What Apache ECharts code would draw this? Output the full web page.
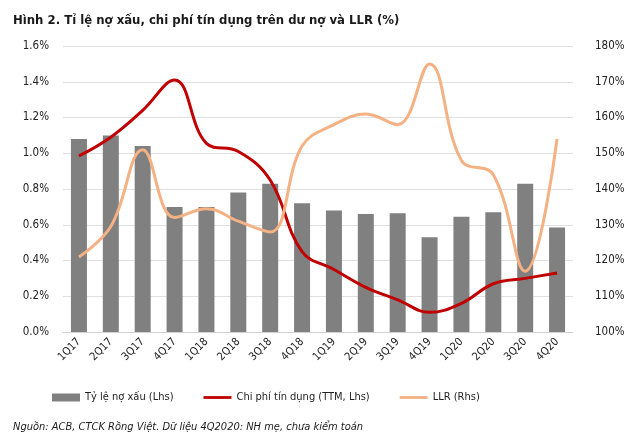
<!DOCTYPE html>
<html><head><meta charset="utf-8">
<script src="https://cdn.jsdelivr.net/npm/echarts@6/dist/echarts.min.js"></script>
<style>html,body{margin:0;padding:0;background:#fff}#c{width:640px;height:443px}</style>
</head><body><div id="c"></div>
<script>
const categories = ['1Q17','2Q17','3Q17','4Q17','1Q18','2Q18','3Q18','4Q18','1Q19','2Q19','3Q19','4Q19','1Q20','2Q20','3Q20','4Q20'];
const nplRatio = [1.08,1.10,1.04,0.70,0.70,0.78,0.83,0.72,0.68,0.66,0.665,0.53,0.645,0.67,0.83,0.585];
const creditCost = [0.985,1.09,1.24,1.41,1.055,1.01,0.85,0.45,0.35,0.25,0.18,0.11,0.16,0.27,0.30,0.33];
const llr = [121,129.5,151,132,134.5,131,128,152,158,161,158,175,148,144,117,154];
const leftTicks = {min:0,max:1.6,interval:0.2};
const rightTicks = {min:100,max:180,interval:10};
const FONT = '"DejaVu Sans Condensed", "Liberation Sans", sans-serif';
const LINE_ICON = 'path://M0 0H30V3H0Z';

const chart = echarts.init(document.getElementById('c'), null, {renderer:'canvas'});
chart.setOption({
  animation:false,
  textStyle:{fontFamily:FONT},
  title:[
    {text:'Hình 2. Tỉ lệ nợ xấu, chi phí tín dụng trên dư nợ và LLR (%)',left:8,top:9,
     textStyle:{fontFamily:FONT,fontSize:13,fontWeight:'bold',color:'#1a1a1a'}},
    {text:'Nguồn: ACB, CTCK Rồng Việt. Dữ liệu 4Q2020: NH mẹ, chưa kiểm toán',left:8,top:417,
     textStyle:{fontFamily:FONT,fontSize:11,fontStyle:'italic',fontWeight:'normal',color:'#1a1a1a'}}
  ],
  legend:{
    top:387,left:47,itemGap:30,itemWidth:28,itemHeight:8,
    textStyle:{fontFamily:FONT,fontSize:11,color:'#222'},
    data:[
      {name:'Tỷ lệ nợ xấu (Lhs)',icon:'rect'},
      {name:'Chi phí tín dụng (TTM, Lhs)',icon:LINE_ICON},
      {name:'LLR (Rhs)',icon:LINE_ICON}
    ]
  },
  grid:{left:63,right:67,top:46,bottom:111},
  xAxis:{
    type:'category',data:categories,
    axisLine:{lineStyle:{color:'#d0d0d0'}},
    axisTick:{show:false},
    axisLabel:{rotate:45,fontSize:11,color:'#222',margin:8,fontFamily:FONT}
  },
  yAxis:[
    {type:'value',min:leftTicks.min,max:leftTicks.max,interval:leftTicks.interval,
     axisLabel:{formatter:v=>v.toFixed(1)+'%',fontSize:11.5,color:'#222',margin:14,fontFamily:FONT},
     splitLine:{lineStyle:{color:'#e0e0e0',width:1}},axisLine:{show:false},axisTick:{show:false}},
    {type:'value',min:rightTicks.min,max:rightTicks.max,interval:rightTicks.interval,
     axisLabel:{formatter:v=>v+'%',fontSize:11.5,color:'#222',margin:22,fontFamily:FONT},
     splitLine:{show:false},axisLine:{show:false},axisTick:{show:false}}
  ],
  series:[
    {name:'Tỷ lệ nợ xấu (Lhs)',type:'bar',data:nplRatio,barWidth:16,
     itemStyle:{color:'#808080'}},
    {name:'Chi phí tín dụng (TTM, Lhs)',type:'line',data:creditCost,smooth:0.4,symbol:'none',
     lineStyle:{color:'#C00000',width:3},itemStyle:{color:'#C00000'}},
    {name:'LLR (Rhs)',type:'line',yAxisIndex:1,data:llr,smooth:0.4,symbol:'none',
     lineStyle:{color:'#F4B183',width:3},itemStyle:{color:'#F4B183'}}
  ]
});
</script></body></html>
